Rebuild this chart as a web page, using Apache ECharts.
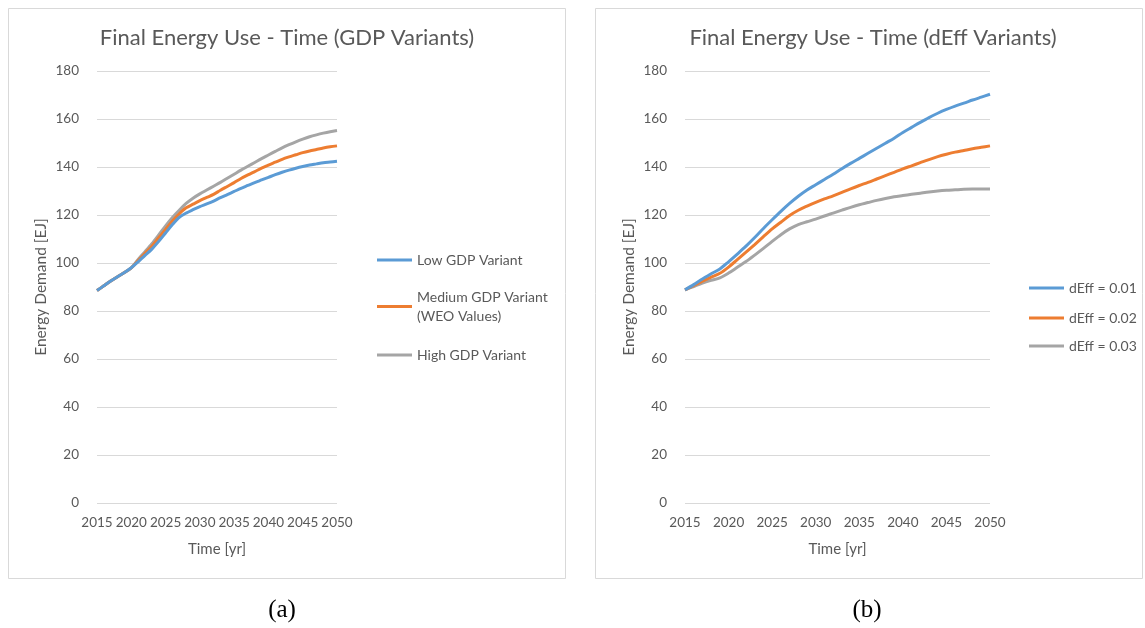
<!DOCTYPE html>
<html>
<head>
<meta charset="utf-8">
<script src="https://cdn.jsdelivr.net/npm/echarts@6/dist/echarts.min.js"></script>
<style>
html,body{margin:0;padding:0;background:#fff;}
#c{width:1145px;height:628px;}
</style>
</head>
<body>
<div id="c"></div>
<script>
// ---- data ----
const years = [2015,2016,2017,2018,2019,2020,2021,2022,2023,2024,2025,2026,2027,2028,2029,2030,2031,2032,2033,2034,2035,2036,2037,2038,2039,2040,2041,2042,2043,2044,2045,2046,2047,2048,2049,2050];
const yTicks = [0,20,40,60,80,100,120,140,160,180];
const xTicks = [2015,2020,2025,2030,2035,2040,2045,2050];

const lowGDP = [88.5,90.5,92.5,94.3,96.0,98.0,100.5,103.2,105.8,109.0,112.5,116.0,119.0,120.8,122.2,123.5,124.6,125.8,127.2,128.5,129.8,131.1,132.3,133.5,134.6,135.7,136.8,137.8,138.7,139.5,140.2,140.8,141.3,141.8,142.1,142.4];
const mediumGDP = [88.5,90.5,92.5,94.3,96.0,98.0,101.0,104.0,107.0,110.5,114.0,117.5,120.5,123.0,124.5,126.0,127.3,128.6,130.3,131.9,133.5,135.2,136.7,138.1,139.5,140.8,142.0,143.2,144.2,145.1,146.0,146.7,147.3,147.9,148.4,148.8];
const highGDP = [88.5,90.5,92.5,94.3,96.0,98.0,101.5,104.7,108.0,111.7,115.5,119.0,122.0,124.8,127.0,128.8,130.4,132.0,133.6,135.3,137.0,138.7,140.3,141.9,143.5,145.0,146.5,148.0,149.3,150.5,151.6,152.6,153.4,154.1,154.7,155.2];

const dEff001 = [88.8,91.0,93.3,95.5,97.5,100.5,103.7,107.0,110.6,114.4,118.0,121.5,124.8,127.8,130.4,132.6,134.8,137.0,139.3,141.5,143.6,145.7,147.8,149.9,152.0,154.4,156.5,158.6,160.6,162.4,164.0,165.4,166.6,167.9,169.1,170.3];
const dEff002 = [88.8,90.6,92.4,94.1,95.7,98.3,101.4,104.5,107.7,111.0,114.2,117.0,119.8,122.0,123.7,125.3,126.7,128.0,129.4,130.9,132.3,133.6,135.0,136.4,137.8,139.2,140.5,141.8,143.1,144.3,145.3,146.2,146.9,147.6,148.2,148.8];
const dEff003 = [88.8,90.2,91.6,92.8,93.8,95.8,98.2,100.6,103.3,106.1,109.0,111.8,114.2,116.0,117.2,118.3,119.6,120.8,122.0,123.2,124.3,125.2,126.1,126.9,127.6,128.1,128.6,129.1,129.6,130.0,130.3,130.5,130.7,130.8,130.8,130.8];

const leftNames = ['Low GDP Variant', 'Medium GDP Variant', 'High GDP Variant'];
const rightNames = ['dEff = 0.01', 'dEff = 0.02', 'dEff = 0.03'];
const titles = ['Final Energy Use - Time (GDP Variants)', 'Final Energy Use - Time (dEff Variants)'];

// ---- styles ----
const FONT = 'Lato, "Open Sans", sans-serif';
const TXT = '#595959';
const GRIDC = '#d9d9d9';
const COLORS = ['#5b9bd5', '#ed7d31', '#a5a5a5'];

function pairs(vals){ return years.map((y,i)=>[y, vals[i]]); }

function xAxisCfg(gi){
  return {
    type:'value', gridIndex:gi, min:xTicks[0], max:xTicks[xTicks.length-1], interval:5,
    name:'Time [yr]', nameLocation:'middle', nameGap:39,
    nameTextStyle:{color:TXT, fontFamily:FONT, fontSize:15},
    axisLine:{show:false}, axisTick:{show:false}, splitLine:{show:false},
    axisLabel:{color:TXT, fontFamily:FONT, fontSize:13.5, margin:13, formatter:function(v){return String(v);}}
  };
}
function yAxisCfg(gi){
  return {
    type:'value', gridIndex:gi, min:yTicks[0], max:yTicks[yTicks.length-1], interval:20,
    name:'Energy Demand [EJ]', nameLocation:'middle', nameGap:48,
    nameTextStyle:{color:TXT, fontFamily:FONT, fontSize:15.5},
    axisLine:{show:false}, axisTick:{show:false},
    splitLine:{show:true, lineStyle:{color:GRIDC, width:1}},
    axisLabel:{color:TXT, fontFamily:FONT, fontSize:13.5, margin:18}
  };
}
function lineSeries(name, vals, ci, gi){
  return {
    name:name, type:'line', xAxisIndex:gi, yAxisIndex:gi,
    data:pairs(vals), showSymbol:false, smooth:0.3,
    lineStyle:{color:COLORS[ci], width:3}, itemStyle:{color:COLORS[ci]},
    emphasis:{disabled:true}, animation:false, z:3+(2-ci)
  };
}
function legendCfg(name, left, iconY, extra){
  const lg = {
    data:[{name:name}], left:left, top:iconY-8, padding:0,
    icon:'rect', itemWidth:35, itemHeight:3, selectedMode:false,
    textStyle:{color:TXT, fontFamily:FONT, fontSize:14, lineHeight:18}
  };
  if (extra) Object.assign(lg, extra);
  return lg;
}

const chart = echarts.init(document.getElementById('c'), null, {renderer:'canvas'});
chart.setOption({
  animation:false,
  backgroundColor:'#fff',
  title:[
    {text:titles[0], left:282, top:22, textAlign:'center',
     textStyle:{color:TXT, fontFamily:FONT, fontSize:22, fontWeight:'normal'}},
    {text:titles[1], left:868, top:22, textAlign:'center',
     textStyle:{color:TXT, fontFamily:FONT, fontSize:22, fontWeight:'normal'}}
  ],
  grid:[
    {left:97, top:71, width:240, height:432, containLabel:false},
    {left:685, top:71, width:305, height:432, containLabel:false}
  ],
  xAxis:[xAxisCfg(0), xAxisCfg(1)],
  yAxis:[yAxisCfg(0), yAxisCfg(1)],
  legend:[
    legendCfg(leftNames[0], 377, 259),
    legendCfg(leftNames[1], 377, 306, {
      top:306-28,
      formatter:function(){ return 'Medium GDP Variant\n(WEO Values)'; },
      textStyle:{color:TXT, fontFamily:FONT, fontSize:14, lineHeight:19, padding:[19,0,0,0]}
    }),
    legendCfg(leftNames[2], 377, 354),
    legendCfg(rightNames[0], 1029, 287),
    legendCfg(rightNames[1], 1029, 317),
    legendCfg(rightNames[2], 1029, 345)
  ],
  series:[
    lineSeries(leftNames[0], lowGDP, 0, 0),
    lineSeries(leftNames[1], mediumGDP, 1, 0),
    lineSeries(leftNames[2], highGDP, 2, 0),
    lineSeries(rightNames[0], dEff001, 0, 1),
    lineSeries(rightNames[1], dEff002, 1, 1),
    lineSeries(rightNames[2], dEff003, 2, 1)
  ],
  graphic:[
    {type:'rect', shape:{x:8.5, y:8.5, width:557, height:570}, style:{fill:null, stroke:GRIDC, lineWidth:1}, silent:true},
    {type:'rect', shape:{x:595.5, y:8.5, width:547, height:570}, style:{fill:null, stroke:GRIDC, lineWidth:1}, silent:true},
    {type:'text', x:282, y:610, style:{text:'(a)', fill:'#000', font:'25px "Liberation Serif", "DejaVu Serif", serif', textAlign:'center', textVerticalAlign:'middle'}, silent:true},
    {type:'text', x:867, y:610, style:{text:'(b)', fill:'#000', font:'25px "Liberation Serif", "DejaVu Serif", serif', textAlign:'center', textVerticalAlign:'middle'}, silent:true}
  ]
});
</script>
</body>
</html>
